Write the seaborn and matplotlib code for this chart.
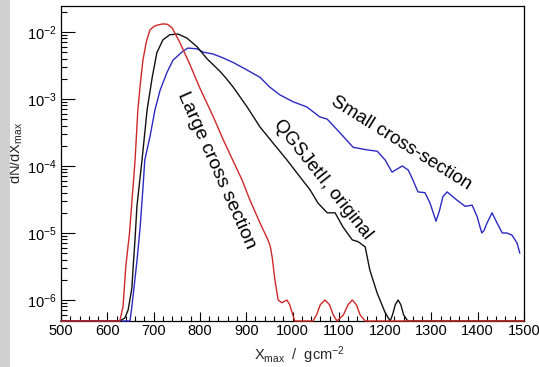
import matplotlib
matplotlib.use("Agg")
import numpy as np
import pandas as pd
import matplotlib.pyplot as plt
from matplotlib.patches import Rectangle
from matplotlib.ticker import LogLocator, LogFormatterSciNotation, MultipleLocator, NullFormatter
import seaborn as sns

# Xmax (g/cm^2) and dN/dXmax for the three cross-section hypotheses; 0 marks an empty bin
large_x = [500, 600, 627, 634, 640, 648, 654, 660, 666, 671, 677, 684, 692, 700, 707,
           720, 730, 740, 757, 779, 800, 828, 850, 870, 891, 908, 930, 940, 947, 952,
           956, 962, 969, 977, 988, 994, 999, 1005, 1044, 1052, 1060, 1070, 1080, 1088,
           1096, 1110, 1120, 1129, 1138, 1146, 1157, 1500]
large_y = [0, 0, 0, 8.0e-7, 3.2e-6, 1.0e-5, 3.5e-5, 1.23e-4, 6.9e-4, 1.6e-3, 3.8e-3,
           7.0e-3, 1.07e-2, 1.2e-2, 1.26e-2, 1.32e-2, 1.3e-2, 1.15e-2, 6.9e-3, 3.2e-3,
           1.45e-3, 5.6e-4, 2.5e-4, 1.26e-4, 6.2e-5, 3.1e-5, 1.4e-5, 1.0e-5, 7.9e-6,
           6.3e-6, 4.4e-6, 2.0e-6, 1.0e-6, 9.1e-7, 1.0e-6, 8.5e-7, 6.5e-7, 0,
           0, 6.0e-7, 8.5e-7, 1.0e-6, 8.5e-7, 6.0e-7, 0, 6.0e-7, 8.5e-7, 1.0e-6, 8.5e-7,
           6.0e-7, 0, 0]

orig_x = [500, 627, 638, 645, 653, 656, 660, 664, 671, 675, 686, 697, 707, 720, 735,
          753, 772, 794, 815, 843, 855, 872, 902, 930, 958, 988, 1016, 1038, 1055, 1075,
          1092, 1109, 1129, 1142, 1157, 1167, 1183, 1200, 1211, 1216, 1222, 1228, 1234,
          1240, 1249, 1500]
orig_y = [0, 0, 5.4e-7, 7.1e-7, 1.5e-6, 3.2e-6, 8.3e-6, 2.5e-5, 6.9e-5, 1.23e-4, 6.9e-4,
          2.1e-3, 4.9e-3, 7.6e-3, 9.1e-3, 9.3e-3, 8.1e-3, 6.0e-3, 4.0e-3, 2.6e-3,
          2.1e-3, 1.5e-3, 7.6e-4, 3.8e-4, 2.2e-4, 1.23e-4, 6.9e-5, 4.4e-5, 2.8e-5, 2.0e-5,
          2.0e-5, 1.23e-5, 7.9e-6, 7.4e-6, 6.2e-6, 2.8e-6, 1.26e-6, 6.5e-7, 0, 6.0e-7,
          8.5e-7, 1.0e-6, 8.5e-7, 6.0e-7, 0, 0]

small_x = [500, 649, 653, 664, 671, 677, 681, 692, 703, 714, 729, 742, 761, 774, 794,
           807, 828, 850, 872, 902, 930, 951, 973, 1001, 1031, 1059, 1075, 1103, 1131,
           1161, 1183, 1200, 1215, 1237, 1250, 1260, 1271, 1286, 1297, 1304, 1310, 1317,
           1325, 1334, 1355, 1373, 1388, 1399, 1404, 1409, 1414, 1420, 1431, 1442, 1453,
           1463, 1474, 1485, 1491]
small_y = [0, 0, 7.9e-7, 3.8e-6, 1.23e-5, 4.7e-5, 1.23e-4, 2.7e-4, 6.9e-4, 1.35e-3,
           2.5e-3, 3.8e-3, 5.0e-3, 5.75e-3, 5.6e-3, 5.0e-3, 4.7e-3, 4.1e-3, 3.5e-3,
           2.7e-3, 2.1e-3, 1.5e-3, 1.15e-3, 9.1e-4, 7.6e-4, 5.4e-4, 5.0e-4, 3.1e-4,
           1.9e-4, 1.74e-4, 1.66e-4, 1.23e-4, 8.1e-5, 1.0e-4, 8.7e-5, 6.2e-5, 4.1e-5,
           4.0e-5, 2.8e-5, 2.0e-5, 1.5e-5, 2.1e-5, 3.5e-5, 4.1e-5, 3.1e-5, 2.5e-5, 2.6e-5,
           1.74e-5, 1.3e-5, 1.0e-5, 1.1e-5, 1.4e-5, 2.0e-5, 1.4e-5, 1.0e-5, 1.0e-5,
           9.3e-6, 7.1e-6, 5.0e-6]

X_RANGE = (500, 1500)
Y_RANGE = (4.86e-7, 2.44e-2)

sns.set_style("ticks")
plt.rcParams["font.family"] = ["Liberation Sans", "DejaVu Sans"]
plt.rcParams["mathtext.fontset"] = "custom"
plt.rcParams["mathtext.rm"] = "Liberation Sans"
plt.rcParams["mathtext.it"] = "Liberation Sans:italic"
plt.rcParams["mathtext.default"] = "regular"

frames = []
for name, xs, ys in [("small", small_x, small_y),
                     ("original", orig_x, orig_y),
                     ("large", large_x, large_y)]:
    frames.append(pd.DataFrame({"model": name, "xmax": xs, "dndx": ys}))
df = pd.concat(frames, ignore_index=True)
# empty bins sit on the lower frame of the log axis
df["shown"] = df["dndx"].clip(lower=Y_RANGE[0])

fig = plt.figure(figsize=(5.39, 3.67), dpi=100)
fig.patches.append(Rectangle((0, 0), 10 / 539, 1, transform=fig.transFigure,
                             facecolor="#d0d0d0", edgecolor="none", zorder=0))
ax = fig.add_axes([61 / 539, 46 / 367, 463 / 539, 315 / 367])

palette = {"small": "#2b2bc4", "original": "#111111", "large": "#d02828"}
sns.lineplot(data=df, x="xmax", y="shown", hue="model", palette=palette,
             hue_order=["small", "original", "large"], estimator=None, sort=False,
             legend=False, linewidth=1.0, ax=ax, clip_on=False, zorder=3)

ax.set_yscale("log")
ax.set_xlim(*X_RANGE)
ax.set_ylim(*Y_RANGE)

ax.xaxis.set_major_locator(MultipleLocator(100))
ax.xaxis.set_minor_locator(MultipleLocator(20))
ax.yaxis.set_major_locator(LogLocator(base=10, numticks=10))
ax.yaxis.set_minor_locator(LogLocator(base=10, subs=np.arange(2, 10), numticks=20))
ax.yaxis.set_major_formatter(LogFormatterSciNotation())
ax.yaxis.set_minor_formatter(NullFormatter())

ax.tick_params(axis="both", which="both", direction="in", top=False, right=False,
               width=0.8, colors="black", labelsize=10.5)
ax.tick_params(axis="x", which="major", length=6.5, pad=2)
ax.tick_params(axis="x", which="minor", length=3.5)
ax.tick_params(axis="y", which="major", length=10, pad=3)
ax.tick_params(axis="y", which="minor", length=4.5)

for side in ["left", "right", "top", "bottom"]:
    ax.spines[side].set_visible(True)
    ax.spines[side].set_linewidth(0.9)
    ax.spines[side].set_color("black")

ax.set_xlabel(r"X$_{max}$  /  gcm$^{-2}$", fontsize=10.5, va="center")
ax.set_ylabel(r"dN/dX$_{max}$", fontsize=10.5, va="center")
ax.xaxis.set_label_coords(0.516, -0.108)
ax.yaxis.set_label_coords(-0.097, 0.533)

text_kw = dict(ha="center", va="center", rotation_mode="anchor", color="black")
ax.text(835, 8.6e-5, "Large cross section", rotation=-66, fontsize=14, **text_kw)
ax.text(1066, 6.2e-5, "QGSJetII, original", rotation=-51.5, fontsize=13.5, **text_kw)
ax.text(1234, 2.2e-4, "Small cross-section", rotation=-32, fontsize=13.5, **text_kw)

fig.savefig("out.png", dpi=100)
